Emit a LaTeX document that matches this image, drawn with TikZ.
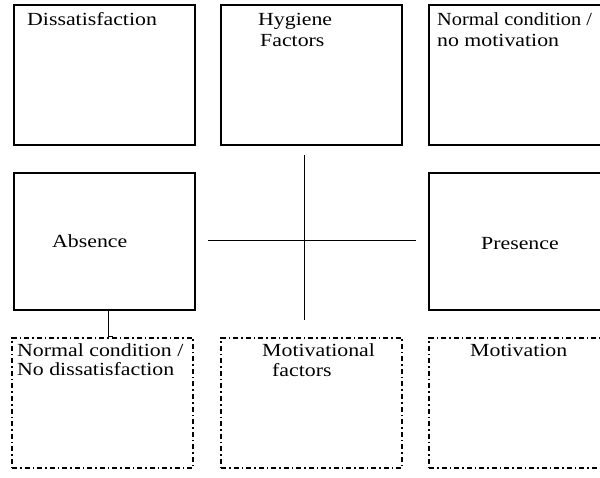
\documentclass[tikz,border=0pt]{standalone}
\usepackage{fontspec}
\setmainfont{Liberation Serif}[FakeStretch=1.18]
\newfontfamily\narrowserif{Liberation Serif}[FakeStretch=1.1]
\begin{document}
\begin{tikzpicture}[x=1pt,y=-1pt,
  solidbox/.style={draw, line width=1.3pt, rectangle, inner sep=0pt},
  dashbox/.style={draw, line width=1.3pt, rectangle, inner sep=0pt,
    dash pattern=on 5pt off 3pt on 1.5pt off 3pt},
  lbl/.style={anchor=base west, inner sep=0pt, font=\fontsize{18.5}{18.5}\selectfont},
  axis/.style={line width=1pt}]
\useasboundingbox (0,0) rectangle (600,478);
\begin{scope}
\clip (0,0) rectangle (600,478);
% top row
\node[solidbox, minimum width=181pt, minimum height=140pt] (dis) at (104.5,75) {};
\node[solidbox, minimum width=181pt, minimum height=140pt] (hyg) at (311.5,75) {};
\node[solidbox, minimum width=181pt, minimum height=140pt] (nom) at (519.5,75) {};
% middle row
\node[solidbox, minimum width=181pt, minimum height=137pt] (abs) at (104.5,241.5) {};
\node[solidbox, minimum width=181pt, minimum height=137pt] (pre) at (519.5,241.5) {};
% bottom row
\node[dashbox, minimum width=181pt, minimum height=130pt] (nod) at (102.5,403) {};
\node[dashbox, minimum width=181pt, minimum height=130pt] (mof) at (311.5,403) {};
\node[dashbox, minimum width=181pt, minimum height=130pt] (mot) at (519.5,403) {};
% labels
\node[lbl] (t1) at (27,26) {Dissatisfaction};
\node[lbl] (t2) at (258,26) {Hygiene};
\node[lbl] (t3) at (260,47) {Factors};
\node[lbl, font=\fontsize{18.5}{18.5}\selectfont\narrowserif] (t4) at (437,26) {Normal condition /};
\node[lbl] (t5) at (437,47) {no motivation};
\node[lbl] (t6) at (52,248) {Absence};
\node[lbl] (t7) at (481,250) {Presence};
\node[lbl] (t8) at (17,357) {Normal condition /};
\node[lbl] (t9) at (17,376) {No dissatisfaction};
\node[lbl] (t10) at (262,357) {Motivational};
\node[lbl] (t11) at (272,377) {factors};
\node[lbl] (t12) at (470,357) {Motivation};
% central cross
\coordinate (cl) at (208,241);
\coordinate (cr) at (416,241);
\coordinate (ct) at (304,155);
\coordinate (cb) at (304,320);
\draw[axis] (cl) -- (cr);
\draw[axis] (ct) -- (cb);
% link from Absence down to the lower box
\coordinate (hook) at (113,337);
\draw[line width=1pt] (abs.south -| 108,0) |- (hook);
\end{scope}
\end{tikzpicture}
\end{document}
